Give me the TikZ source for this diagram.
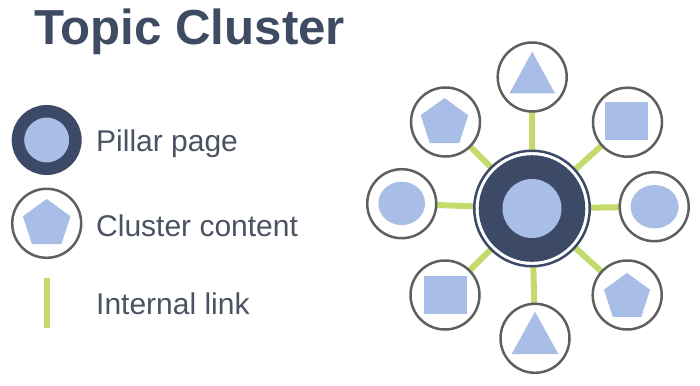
\documentclass[tikz,border=0pt]{standalone}
\usepackage{fontspec}
\setmainfont{Liberation Sans}
\usetikzlibrary{shapes.geometric,backgrounds}
\definecolor{navy}{HTML}{3C4A67}
\definecolor{lightblue}{HTML}{A9BEE6}
\definecolor{titlec}{HTML}{3F4A63}
\definecolor{textc}{HTML}{4B5363}
\definecolor{linkgreen}{HTML}{C3DA6C}
\definecolor{ringgray}{HTML}{5F5F5F}
\tikzset{
  sat/.style={circle, draw=ringgray, line width=2.5pt, fill=white, minimum size=69pt, inner sep=0pt, outer sep=0pt},
  shp/.style={fill=lightblue, draw=none},
  link/.style={draw=linkgreen, line width=6pt, line cap=butt},
  legtext/.style={anchor=base west, inner sep=0pt, text=textc, font=\fontsize{30}{36}\selectfont},
  pent/.style={regular polygon, regular polygon sides=5, minimum size=50pt, inner sep=0pt, outer sep=0pt, fill=lightblue},
  rectshp/.style={rectangle, minimum width=43pt, minimum height=38pt, inner sep=0pt, outer sep=0pt, fill=lightblue},
  ellshp/.style={ellipse, minimum width=48pt, minimum height=43.4pt, inner sep=0pt, outer sep=0pt, fill=lightblue}
}
\begin{document}
\begin{tikzpicture}[x=1pt,y=-1pt]
\useasboundingbox (0,0) rectangle (700,385);

% title
\node[anchor=base west, inner sep=0pt, text=titlec, font=\fontsize{49.2}{59}\selectfont\bfseries] (title) at (34,45) {Topic Cluster};

% legend
\node[circle, draw=navy, fill=lightblue, line width=12.5pt, minimum size=57.5pt, inner sep=0pt, outer sep=0pt] (lp) at (46.7,140) {};
\node[sat] (lc) at (46.7,223.3) {};
\node[pent] (lcp) at (46.7,224) {};
\coordinate (l1) at (46.7,278);
\coordinate (l2) at (46.7,328);
\draw[link] (l1) -- (l2);
\node[legtext] (tp) at (96,151) {Pillar page};
\node[legtext] (tc) at (96,236.7) {Cluster content};
\node[legtext] (tl) at (96,314) {Internal link};

% hub
\node[circle, draw=navy, line width=2.5pt, fill=white, minimum size=115.5pt, inner sep=0pt, outer sep=0pt] (h) at (532,208.5) {};
\fill[navy] (h.center) circle (53.3);
\fill[lightblue] (h.center) circle (29.5);

% satellites
\node[sat] (t)  at (532.2,77) {};
\node[sat] (tr) at (627.5,122.2) {};
\node[sat] (r)  at (654.2,206.7) {};
\node[sat] (br) at (627.2,295) {};
\node[sat] (b)  at (535,338.3) {};
\node[sat] (bl) at (445,295) {};
\node[sat] (l)  at (401.7,203.7) {};
\node[sat] (tl) at (445.5,122) {};

% inner shapes
\fill[shp, shift={(t)}] (0,-25.3) -- (22.7,16.3) -- (-22.7,16.3) -- cycle;
\fill[shp, shift={(b)}] (0,-26.6) -- (23.3,15.7) -- (-23.3,15.7) -- cycle;
\node[rectshp] (trs) at (626.7,120.9) {};
\node[rectshp] (bls) at (445.6,295.3) {};
\node[ellshp] (rs) at (654.6,206.7) {};
\node[ellshp, minimum width=46.7pt] (ls) at (401.7,203.4) {};
\node[pent] (tlp) at (444.5,123) {};
\node[pent, minimum size=48.5pt] (brp) at (627,297.2) {};

% links
\begin{pgfonlayer}{background}
\foreach \s in {t,tr,r,br,b,bl,l,tl} {
  \draw[link] (h.center) -- (\s.center);
}
\end{pgfonlayer}
\end{tikzpicture}
\end{document}
